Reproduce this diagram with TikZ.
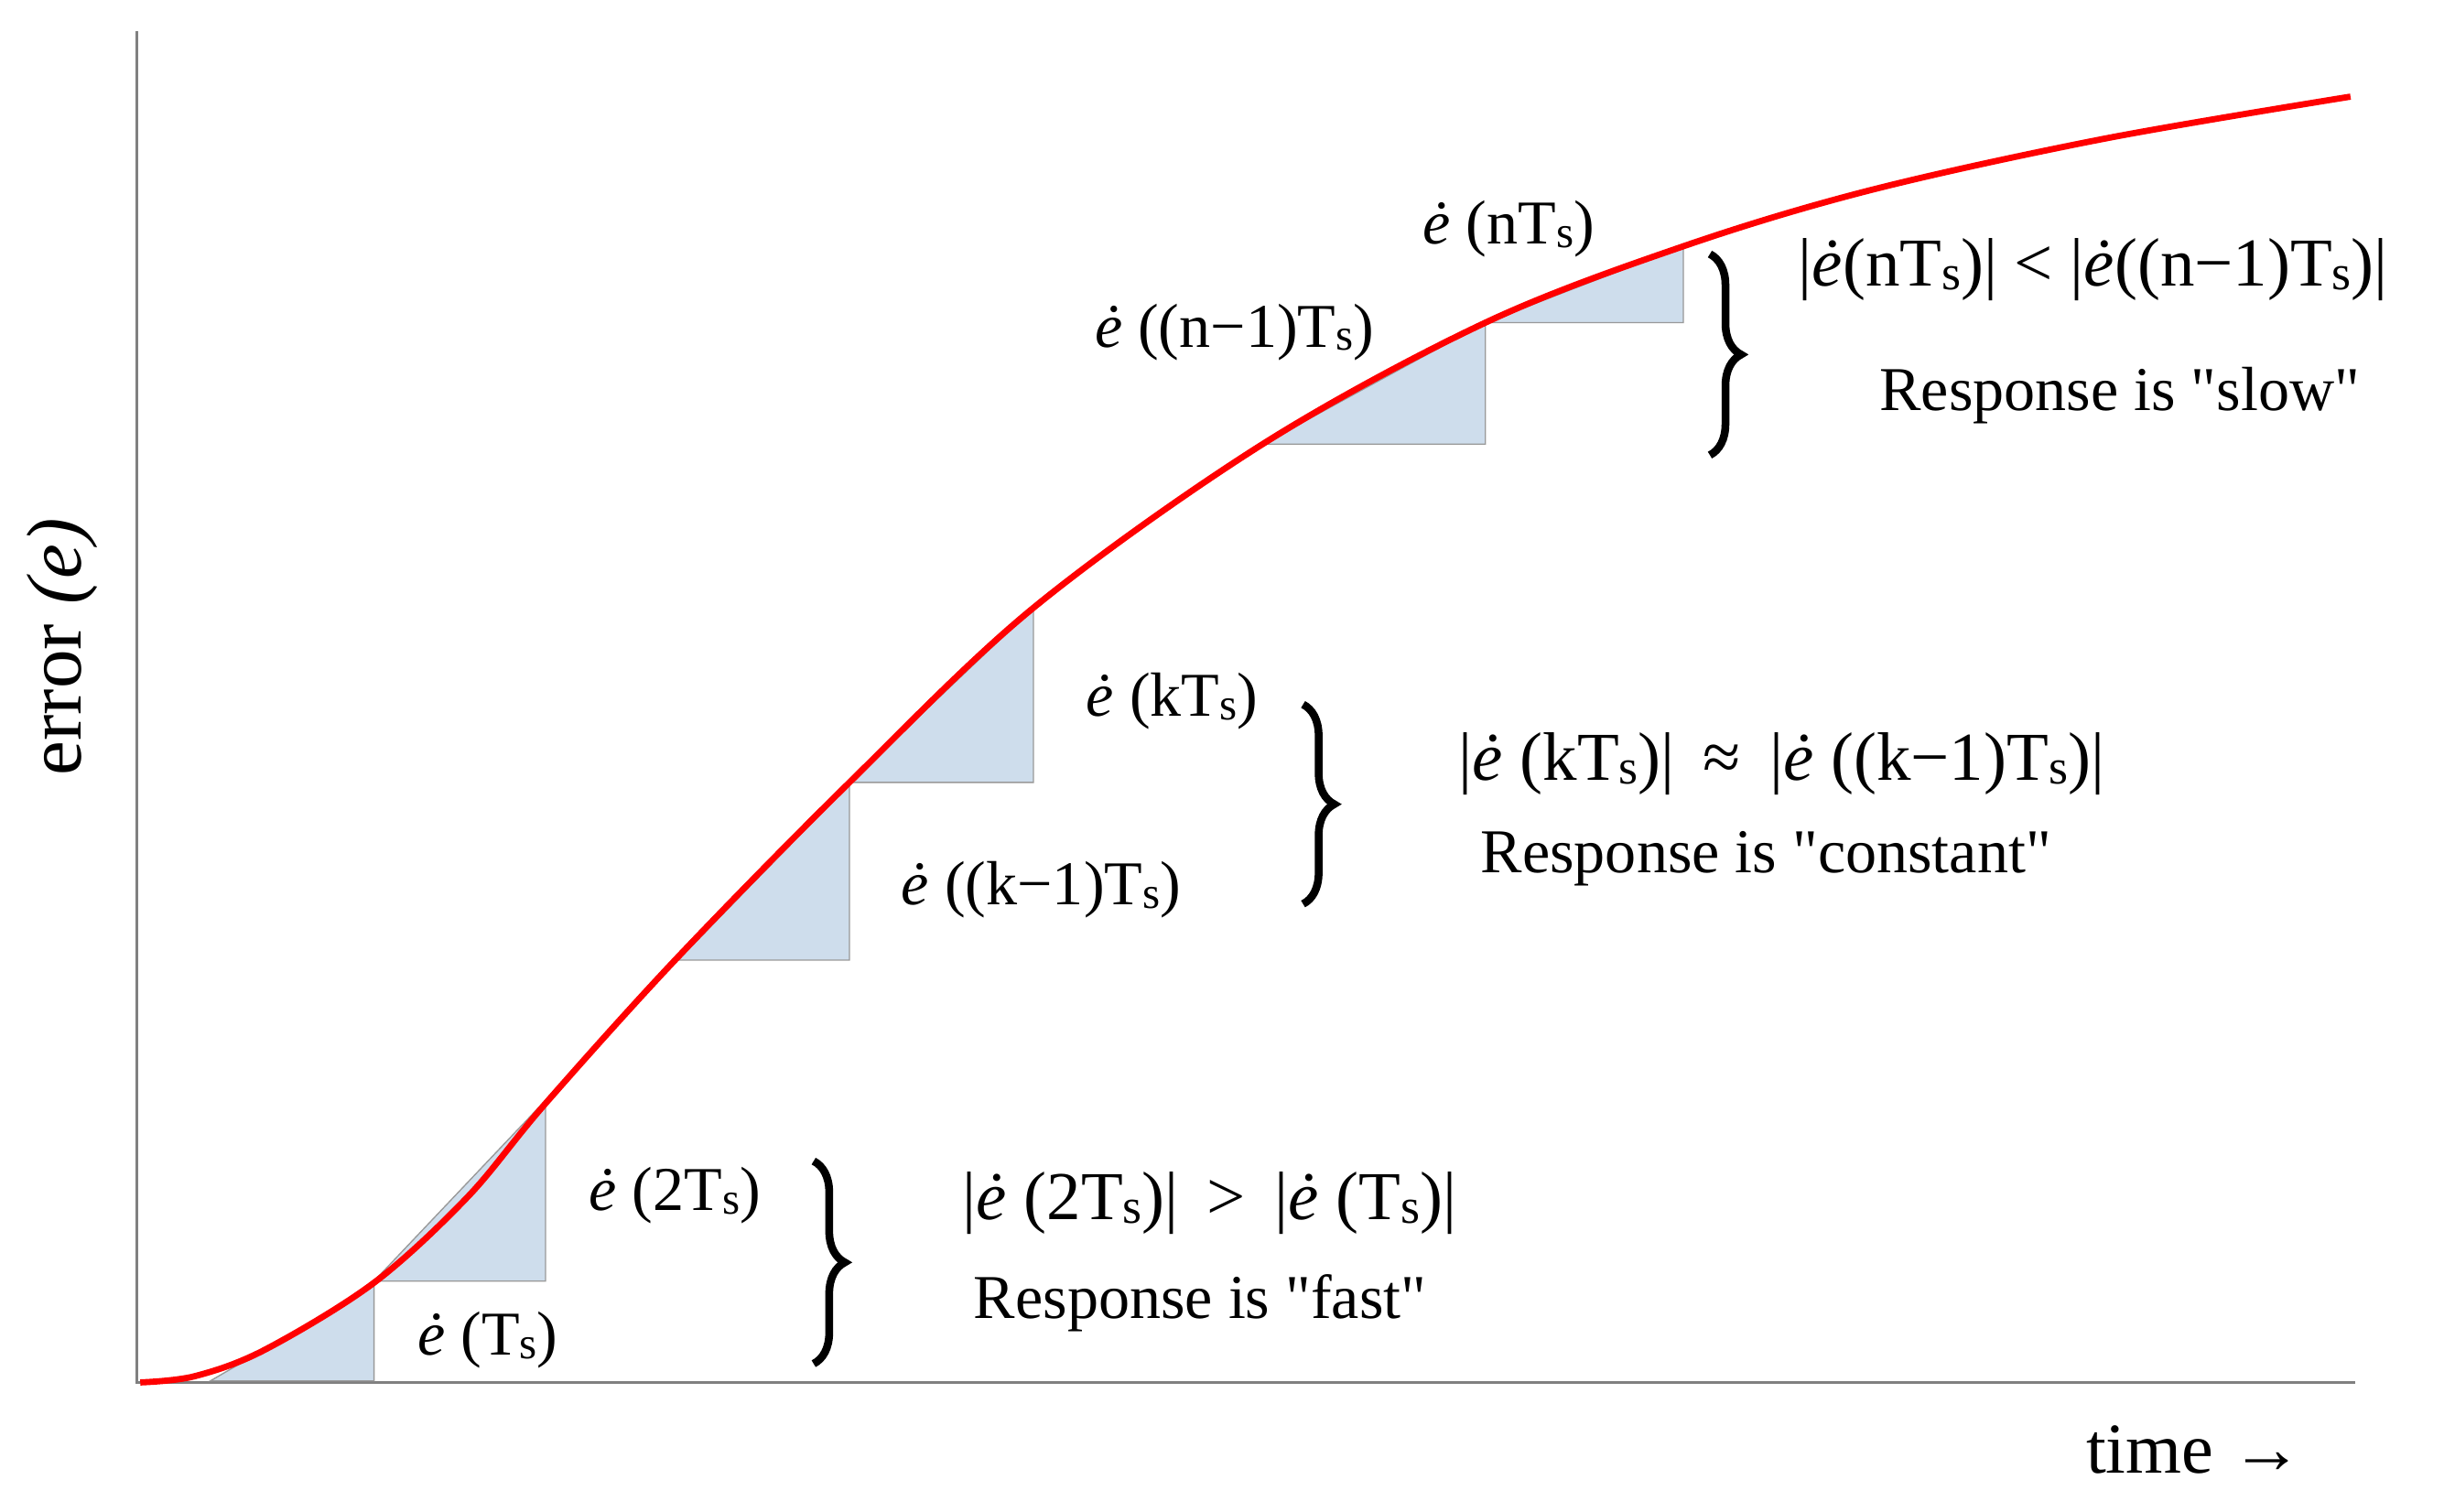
\documentclass[tikz,border=0pt]{standalone}
\usepackage{fontspec}
\setmainfont{Liberation Serif}
\newfontfamily\qfont{Liberation Serif}[Ligatures=ResetAll]
\usetikzlibrary{decorations.pathreplacing}
\newcommand{\Tsub}{T\raisebox{-0.12ex}{\scalebox{0.72}{s}}}
\newcommand{\ed}{\textit{\.{e}}}
\newcommand{\qq}{{\qfont"}}
\definecolor{tri}{RGB}{206,221,236}
\tikzset{
  tribox/.style={fill=tri,draw=gray!80,line width=0.8pt},
  lab/.style={font=\fontsize{40}{44}\selectfont,inner sep=0pt},
  big/.style={font=\fontsize{44}{48}\selectfont,inner sep=0pt},
  brc/.style={decorate,decoration={brace,amplitude=20pt},line width=5pt},
}
\begin{document}
\begin{tikzpicture}[x=1pt,y=-1pt]
\useasboundingbox (0,0) rectangle (1568,970);
\fill[white] (0,0) rectangle (1568,970);
\draw[gray,line width=1.8pt] (88,20) -- (88,887) -- (1511,887);
\draw[tribox] (135,886) -- (240,886) -- (240,825) -- cycle;
\draw[tribox] (240,822) -- (350,822) -- (350,706) -- cycle;
\draw[tribox] (435,616) -- (545,616) -- (545,503) -- cycle;
\draw[tribox] (545,502) -- (663,502) -- (663,390) -- cycle;
\draw[tribox] (810,285) -- (953,285) -- (953,207) -- cycle;
\draw[tribox] (953,207) -- (1080,207) -- (1080,158) -- cycle;
\draw[red,line width=4pt] plot[smooth,tension=0.55] coordinates {(90,887) (125,883) (170,866) (240,823) (300,768) (350,708) (435,614) (545,502) (663,390) (810,285) (953,207) (1080,158) (1200,122) (1350,89) (1508,62)};
\node[lab] (l1) at (313,860) {\ed\ (\Tsub)};
\node[lab] (l2) at (433,767) {\ed\ (2\Tsub)};
\node[lab] (l3) at (668,571) {\ed\ ((k−1)\Tsub)};
\node[lab] (l4) at (752,450) {\ed\ (k\Tsub)};
\node[lab] (l5) at (792,213) {\ed\ ((n−1)\Tsub)};
\node[lab] (l6) at (968,147) {\ed\ (n\Tsub)};
\draw[brc] (522,745) -- (522,875);
\draw[brc] (836,452) -- (836,580);
\draw[brc] (1097,163) -- (1097,292);
\node[big] (f1) at (776,772) {|\ed\ (2\Tsub)| \,>\, |\ed\ (\Tsub)|};
\node[lab] (f2) at (770,836) {Response is \qq fast\qq};
\node[big] (c1) at (1143,490) {|\ed\ (k\Tsub)| \,≈\, |\ed\ ((k−1)\Tsub)|};
\node[lab] (c2) at (1133,551) {Response is \qq constant\qq};
\node[big] (s1) at (1343,173) {|\ed(n\Tsub)| < |\ed((n−1)\Tsub)|};
\node[lab] (s2) at (1360,254) {Response is \qq slow\qq};
\node[lab,font=\fontsize{50}{54}\selectfont,rotate=90] (ey) at (40,415) {error \textit{(e)}};
\node[lab,font=\fontsize{46}{50}\selectfont] (tx) at (1408,930) {time →};
\end{tikzpicture}
\end{document}
